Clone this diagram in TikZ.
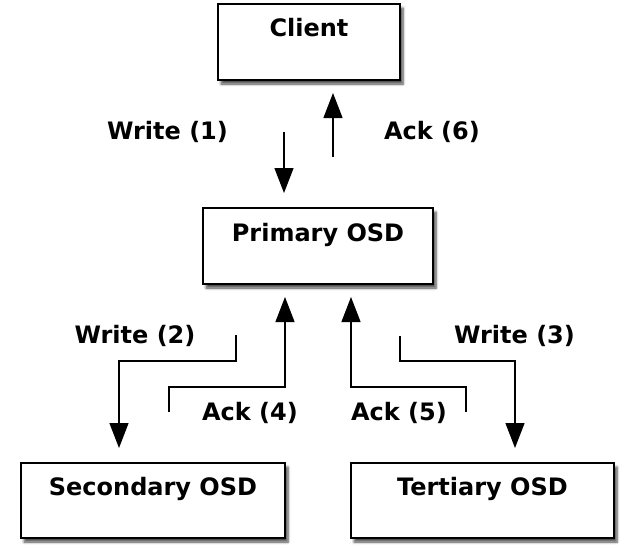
\documentclass[tikz,border=0pt]{standalone}
\usepackage{fontspec}
\setmainfont{DejaVu Sans}
\usetikzlibrary{arrows.meta,shadows,shadows.blur}
\begin{document}
\begin{tikzpicture}[x=1pt,y=-1pt,
  box/.style={draw=black, line width=1.8pt, fill=white, inner sep=0pt,
    blur shadow={shadow blur steps=6, shadow blur radius=2.5pt, shadow xshift=3pt, shadow yshift=-4pt, shadow opacity=70}},
  txt/.style={anchor=base, inner sep=0pt, font=\fontsize{24}{28}\selectfont\bfseries},
  conn/.style={line width=1.3pt, -{Triangle[width=19pt,length=25pt]}}]
\useasboundingbox (0,0) rectangle (627,547);
% boxes
\node[box, minimum width=182pt, minimum height=76pt] (client) at (309,42) {};
\node[box, minimum width=230pt, minimum height=76pt] (primary) at (318,246) {};
\node[box, minimum width=264pt, minimum height=75pt] (secondary) at (153,500.5) {};
\node[box, minimum width=263pt, minimum height=75pt] (tertiary) at (482.5,500.5) {};
% box titles
\node[txt] (tclient) at ([yshift=-33pt]client.north) {Client};
\node[txt] (tprimary) at ([yshift=-34pt]primary.north) {Primary OSD};
\node[txt] (tsecondary) at ([yshift=-33pt]secondary.north) {Secondary OSD};
\node[txt] (ttertiary) at ([yshift=-33pt]tertiary.north) {Tertiary OSD};
% labels
\node[txt] (lw1) at (167.5,139) {Write (1)};
\node[txt] (la6) at (432,139) {Ack (6)};
\node[txt] (lw2) at (135,343) {Write (2)};
\node[txt] (la4) at (250,420) {Ack (4)};
\node[txt] (la5) at (399,420) {Ack (5)};
\node[txt] (lw3) at (514.5,343) {Write (3)};
% free connector ends
\coordinate (w1s) at (284,132);
\coordinate (w1e) at (284,193);
\coordinate (a6s) at (333,157);
\coordinate (a6e) at (333,93);
\coordinate (w2s) at (236,335);
\coordinate (w2e) at (119,448);
\coordinate (a4s) at (169,412);
\coordinate (a4e) at (285,297);
\coordinate (a5s) at (466,412);
\coordinate (a5e) at (351,297);
\coordinate (w3s) at (400,336);
\coordinate (w3e) at (515,448);
% connectors
\draw[conn] (w1s) -- (w1e);
\draw[conn] (a6s) -- (a6e);
\draw[conn] (w2s) -- (236,361) -| (w2e);
\draw[conn] (a4s) -- (169,387) -| (a4e);
\draw[conn] (a5s) -- (466,387) -| (a5e);
\draw[conn] (w3s) -- (400,361) -| (w3e);
\end{tikzpicture}
\end{document}
